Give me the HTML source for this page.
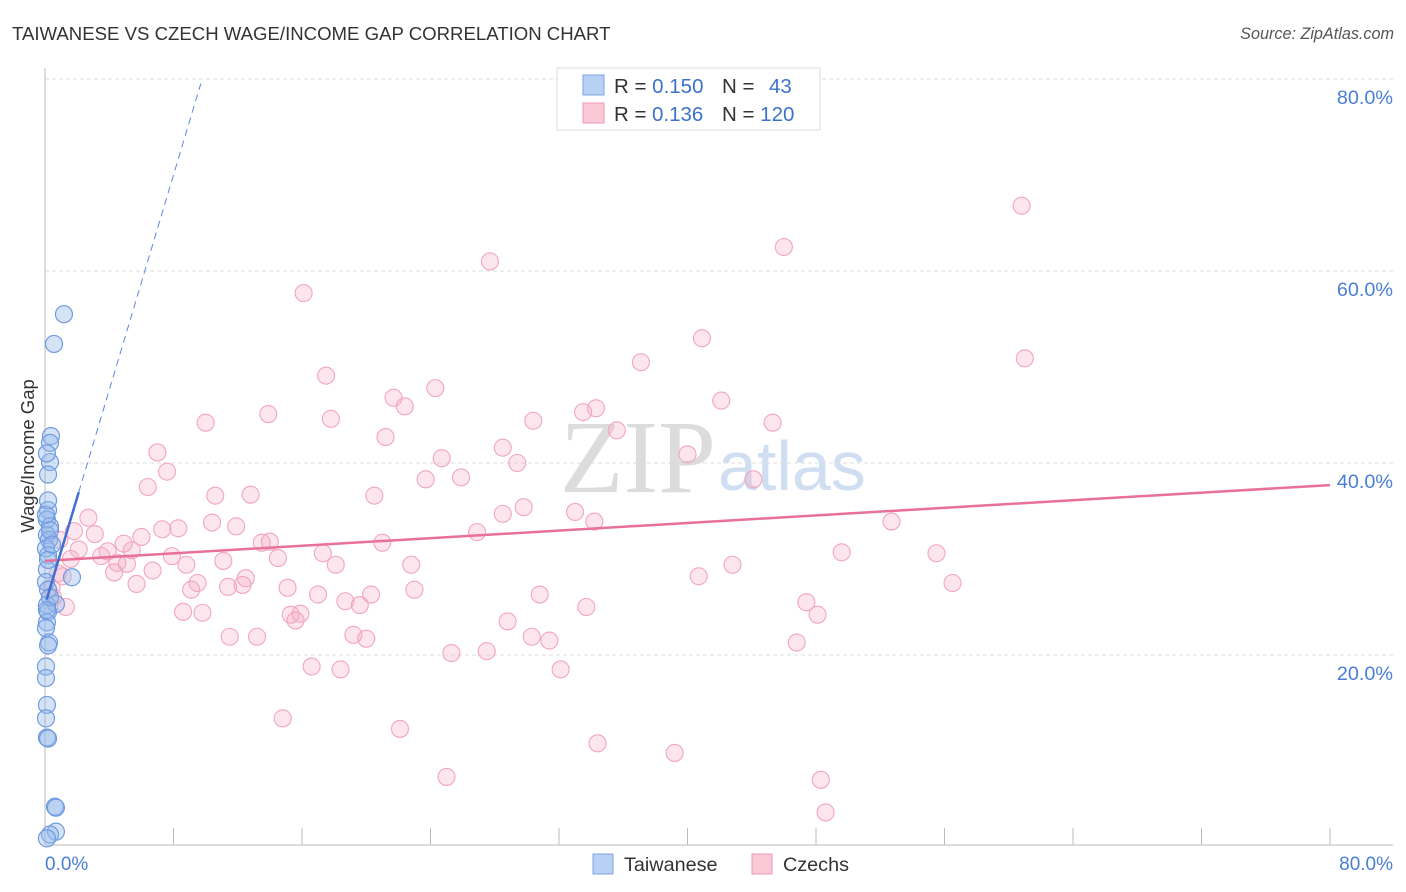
<!DOCTYPE html>
<html><head><meta charset="utf-8">
<style>
body{margin:0;background:#fff;font-family:"Liberation Sans",sans-serif;}
svg{display:block}
</style></head>
<body>
<svg id="chart" width="1406" height="892" viewBox="0 0 1406 892">
<text x="12" y="40" font-size="18.6" fill="#333">TAIWANESE VS CZECH WAGE/INCOME GAP CORRELATION CHART</text>
<text x="1394" y="39" font-size="16.2" fill="#555" font-style="italic" text-anchor="end">Source: ZipAtlas.com</text>
<text x="716" y="492" font-size="104" fill="#dcdcdc" text-anchor="end" font-family="Liberation Serif,serif">ZIP</text>
<text x="718" y="490" font-size="70" fill="#d0def2">atlas</text>
<g id="grid"></g>
<g id="axes"></g>
<g id="pts"></g>
<g id="lines"></g>
<text x="34" y="456" font-size="18.5" fill="#333" text-anchor="middle" transform="rotate(-90 34 456)">Wage/Income Gap</text>
<text x="45" y="870" font-size="19" fill="#4a7fd4">0.0%</text>
<text x="1393" y="870" font-size="19" fill="#4a7fd4" text-anchor="end">80.0%</text>
<g>
<rect x="557" y="68" width="263" height="62" fill="#fff" stroke="#ddd"/>
<rect x="583" y="75" width="21" height="20" fill="#b8d0f4" stroke="#7ba3e0"/>
<rect x="583" y="103" width="21" height="20" fill="#fac8d6" stroke="#ef9ab3"/>
<text x="614" y="93" font-size="20.5" fill="#333">R = <tspan fill="#3b73c9">0.150</tspan></text>
<text x="722" y="93" font-size="20.5" fill="#333">N = <tspan fill="#3b73c9" x="769">43</tspan></text>
<text x="614" y="121" font-size="20.5" fill="#333">R = <tspan fill="#3b73c9" x="652">0.136</tspan></text>
<text x="722" y="121" font-size="20.5" fill="#333">N = <tspan fill="#3b73c9">120</tspan></text>
</g>
<g>
<rect x="593" y="854" width="20" height="20" fill="#b8d0f4" stroke="#7ba3e0"/>
<text x="624" y="871" font-size="19.8" fill="#333">Taiwanese</text>
<rect x="752" y="854" width="20" height="20" fill="#fac8d6" stroke="#ef9ab3"/>
<text x="783" y="871" font-size="19.8" fill="#333">Czechs</text>
</g>
</svg>
<script>
const yTicks=[20,40,60,80];
const yTickLabels=["20.0%","40.0%","60.0%","80.0%"];
const xTicks=[8,16,24,32,40,48,56,64,72,80];
const twX=[1.18,0.56,0.37,0.31,0.31,0.19,0.12,0.19,0.12,0.31,0.12,0.25,0.06,0.19,0.12,1.68,0.06,0.19,0.68,0.12,0.19,0.12,0.06,0.25,0.19,0.06,0.06,0.12,0.06,0.12,0.19,0.62,0.68,0.68,0.31,0.12,0.19,0.31,0.12,0.06,0.31,0.19,0.44];
const twY=[55.5,52.4,42.8,42.1,40.1,38.8,41.0,35.1,34.1,33.4,32.5,32.0,31.1,30.4,28.9,28.1,27.6,26.8,25.3,25.2,24.5,23.4,22.8,21.3,21.0,18.8,17.6,14.8,13.4,11.4,11.3,4.2,4.1,1.6,1.3,0.9,29.9,26.0,24.7,34.6,33.0,36.1,31.5];
const czX=[60.8,46.0,27.7,16.1,40.9,61.0,37.1,17.5,24.3,21.7,22.4,42.1,34.3,13.9,33.5,17.8,30.4,10.0,45.3,35.6,21.2,28.5,7.0,40.0,24.7,29.4,7.6,23.7,25.9,44.1,6.4,20.5,10.6,12.8,29.8,28.5,33.0,34.2,52.7,2.7,26.9,7.3,8.3,10.4,11.9,1.8,3.1,0.9,6.0,13.5,14.0,21.0,4.9,5.4,3.9,3.5,2.1,49.6,55.5,17.3,7.9,14.5,11.1,8.8,4.5,5.1,18.1,22.8,42.8,4.3,6.7,1.1,40.7,9.5,12.5,11.4,12.3,15.1,5.7,9.1,56.5,23.0,17.0,20.3,30.8,18.7,19.6,33.7,47.4,8.6,9.8,15.3,15.9,15.6,48.1,28.8,19.2,20.0,30.3,11.5,13.2,31.4,46.8,25.3,27.5,16.6,18.4,32.1,14.8,22.1,34.4,39.2,25.0,48.3,48.6,0.5,0.8,1.3,0.4,1.6];
const czY=[66.8,62.5,61.0,57.7,53.0,50.9,50.5,49.1,47.8,46.8,45.9,46.5,45.7,45.1,45.3,44.6,44.4,44.2,44.2,43.4,42.7,41.6,41.1,40.9,40.5,40.0,39.1,38.3,38.5,38.3,37.5,36.6,36.6,36.7,35.4,34.7,34.9,33.9,33.9,34.3,32.8,33.1,33.2,33.8,33.4,32.9,32.6,32.0,32.3,31.7,31.8,31.7,31.6,30.9,30.8,30.3,31.0,30.7,30.6,30.6,30.3,30.1,29.8,29.4,29.6,29.5,29.4,29.4,29.4,28.6,28.8,28.2,28.2,27.5,28.0,27.1,27.3,27.0,27.4,26.8,27.5,26.8,26.3,26.3,26.3,25.6,25.2,25.0,25.5,24.5,24.4,24.2,24.3,23.6,24.2,23.5,22.1,21.7,21.9,21.9,21.9,21.5,21.3,20.2,20.4,18.8,18.5,18.5,13.4,12.3,10.8,9.8,7.3,7.0,3.6,26.0,28.5,25.0,27.0,30.0];
const czTrend=[29.8,37.7];
const twTrend={b:25.2,m:5.6,solidEnd:2.1,dashEnd:9.7};
const NS="http://www.w3.org/2000/svg";
const X=v=>45+v/80*1285, Y=v=>847-v/80*768;
function mk(t,a,p){const e=document.createElementNS(NS,t);for(const k in a)e.setAttribute(k,a[k]);p.appendChild(e);return e;}
const grid=document.getElementById('grid'),axes=document.getElementById('axes'),pts=document.getElementById('pts'),lines=document.getElementById('lines');
yTicks.forEach((t,i)=>{
 const l=mk('line',{x1:45,x2:1393,y1:Y(t),y2:Y(t),stroke:'#ddd','stroke-dasharray':'4,3'},grid);
 
 
 const tx=mk('text',{x:1393,y:Y(t)+25,'font-size':19.8,fill:'#4a7fd4','text-anchor':'end'},grid);
 tx.textContent=yTickLabels[i];
 
 
});
mk('line',{x1:45,x2:45,y1:68,y2:845,stroke:'#bbb'},axes);
mk('line',{x1:45,x2:1393,y1:845,y2:845,stroke:'#bbb'},axes);
xTicks.forEach(t=>{
 const l=mk('line',{x1:X(t),x2:X(t),y1:828,y2:845,stroke:'#bbb'},axes);
 
 
});
czX.forEach((v,i)=>{
 const c=mk('circle',{cx:X(v),cy:Y(czY[i]),r:8.5,fill:'rgba(246,170,195,0.3)',stroke:'#f2a6bd','stroke-width':1.1},pts);
 
 
});
twX.forEach((v,i)=>{
 const c=mk('circle',{cx:X(v),cy:Y(twY[i]),r:8.5,fill:'rgba(150,185,235,0.4)',stroke:'#6f9be0','stroke-width':1.2},pts);
 
 
});
const pl=mk('line',{x1:X(0),y1:Y(czTrend[0]),x2:X(80),y2:Y(czTrend[1]),stroke:'#e8709a','stroke-width':2.5},lines);


const bl=mk('line',{x1:X(0.1),y1:Y(twTrend.b+twTrend.m*0.1),x2:X(twTrend.solidEnd),y2:Y(twTrend.b+twTrend.m*twTrend.solidEnd),stroke:'#3f6fd0','stroke-width':2.5},lines);


const bd=mk('line',{x1:X(twTrend.solidEnd),y1:Y(twTrend.b+twTrend.m*twTrend.solidEnd),x2:X(twTrend.dashEnd),y2:Y(twTrend.b+twTrend.m*twTrend.dashEnd),stroke:'#5a88dc','stroke-width':1,'stroke-dasharray':'7,5'},lines);


</script>
</body></html>
